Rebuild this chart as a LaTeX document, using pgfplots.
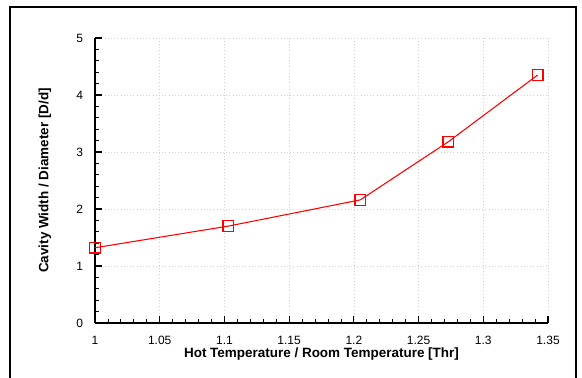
\documentclass[border=0pt]{standalone}
\usepackage{pgfplots}
\pgfplotsset{compat=1.18}
\usepackage{fontspec}
\setmainfont{Liberation Sans}
\begin{document}
\begin{tikzpicture}
\path[use as bounding box] (0,0) rectangle (436.5pt,283.5pt);
\draw[line width=0.9pt] (7.5pt,0) -- (7.5pt,278.25pt) -- (432pt,278.25pt) -- (432pt,0);
\begin{axis}[
  at={(71.25pt,41.25pt)}, anchor=south west,
  scale only axis, width=339.75pt, height=213.75pt,
  xmin=1, xmax=1.35, ymin=0, ymax=5,
  axis lines*=left,
  axis line style={line width=1.3pt},
  tick align=inside,
  xtick={1,1.05,1.1,1.15,1.2,1.25,1.3,1.35},
  xticklabels={1,1.05,1.1,1.15,1.2,1.25,1.3,1.35},
  ytick={0,1,2,3,4,5},
  minor x tick num=4, minor y tick num=4,
  major tick length=5pt, minor tick length=2.7pt,
  every tick/.style={black, line width=0.9pt},
  minor tick style={line width=0.6pt},
  grid=major,
  major grid style={gray!35, dotted, line width=0.4pt},
  tick label style={font=\fontsize{9}{10}\selectfont},
  xticklabel style={yshift=-6.5pt},
  yticklabel style={xshift=-5.5pt},
  /pgf/number format/assume math mode=true,
  xlabel={\textbf{Hot Temperature / Room Temperature [Thr]}},
  ylabel={\textbf{Cavity Width / Diameter [D/d]}},
  label style={font=\fontsize{10.1}{12}\selectfont},
  xlabel style={yshift=5pt},
  ylabel style={yshift=12pt},
  clip=false,
]
\addplot[red, line width=0.8pt, mark=square, mark size=4pt, mark options={line width=0.9pt, fill=none}]
coordinates {(1,1.32) (1.103,1.70) (1.205,2.16) (1.273,3.18) (1.342,4.35)};
\end{axis}
\end{tikzpicture}
\end{document}
